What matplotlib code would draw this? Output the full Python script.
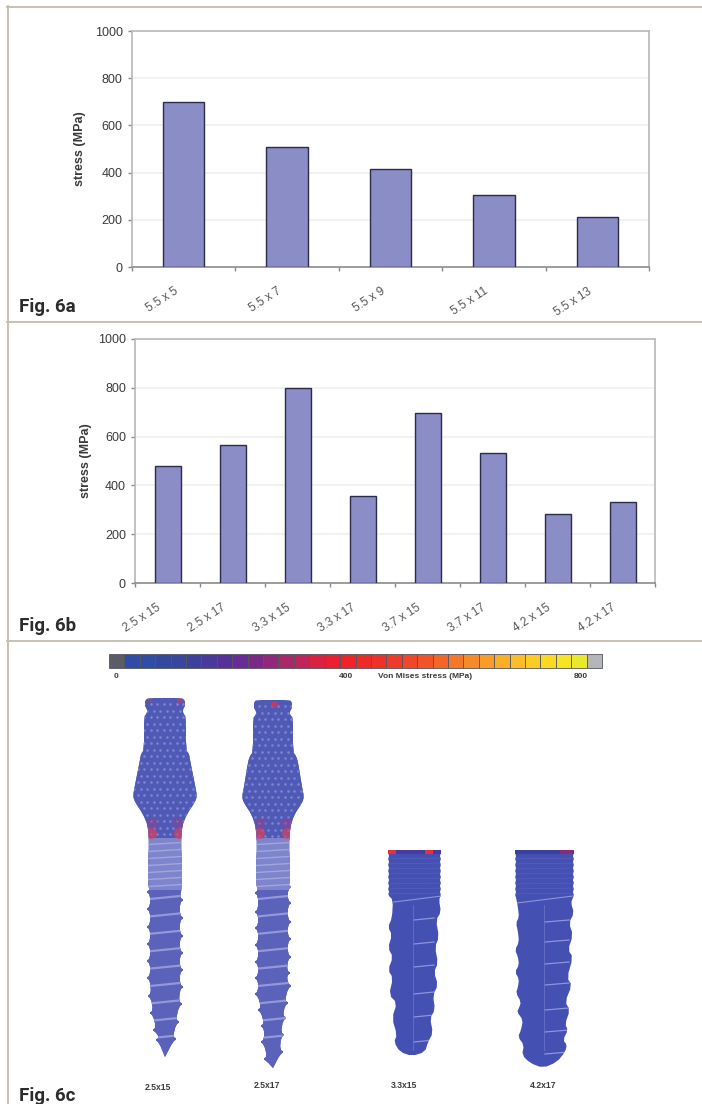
import matplotlib
matplotlib.use('Agg')
import matplotlib.pyplot as plt
from matplotlib.patches import Polygon, Rectangle
from matplotlib.transforms import ScaledTranslation
import numpy as np

W, H = 702, 1104

# chart data
labels_a = ['5.5 x 5', '5.5 x 7', '5.5 x 9', '5.5 x 11', '5.5 x 13']
stress_a = [700, 508, 415, 303, 212]
labels_b = ['2.5 x 15', '2.5 x 17', '3.3 x 15', '3.3 x 17', '3.7 x 15', '3.7 x 17', '4.2 x 15', '4.2 x 17']
stress_b = [480, 567, 800, 358, 697, 533, 282, 333]
y_ticks = [0, 200, 400, 600, 800, 1000]

# colour scale cells
scale_colors = ['#5b5c66', '#2f4da6', '#2f4da6', '#32499f', '#37479f', '#3d409c', '#483a9a', '#57309a',
                '#6a2a98', '#7c2888', '#922878', '#a82868', '#c02458', '#d82240', '#ea2030', '#ee2428',
                '#ee2a28', '#ee3028', '#ef3a2a', '#f0462a', '#f1542a', '#f2662a', '#f4782a', '#f58a2a',
                '#f89c2a', '#fbae28', '#fcbe26', '#fdcc24', '#fcd822', '#f8e422', '#eae82a', '#b4b6bc']

# long implants: head half-outline as (half width, y), then thread teeth y positions
head_15 = [(17, 698), (20, 701), (20, 706), (18, 709), (18, 713), (21, 717), (21, 750), (24, 754), (25, 760),
           (30, 785), (32, 796), (30, 802), (22, 814), (17, 826), (16, 845), (17, 860), (17, 886)]
head_17 = [(17, 700), (19, 703), (19, 708), (17, 711), (17, 715), (20, 718), (20, 752), (23, 756), (25, 762),
           (29, 787), (31, 797), (29, 803), (21, 815), (17, 828), (16, 847), (17, 862), (17, 884)]
teeth_15_left = [892, 909, 927, 944, 961, 978, 996, 1013, 1030, 1040]
reach_15_left = [18, 18, 18, 18, 18, 18, 17, 15, 12, 9]
teeth_15_right = [900, 918, 936, 953, 970, 987, 1004, 1022, 1039]
reach_15_right = [18, 18, 18, 18, 18, 18, 17, 14, 11]
teeth_17_left = [893, 912, 928, 945, 962, 978, 994, 1010, 1026, 1042, 1059]
reach_17_left = [18, 18, 18, 18, 18, 18, 18, 15, 12, 12, 9]
teeth_17_right = [887, 903, 922, 939, 957, 973, 986, 1003, 1018, 1035, 1052]
reach_17_right = [18, 18, 18, 18, 18, 17, 18, 15, 13, 11, 10]

# short implants, (x, y) in image pixels
implant_33 = [(393, 900), (392, 918), (388, 927), (392, 935), (388, 948), (393, 957), (388, 970), (393, 978),
              (389, 995), (397, 1003), (392, 1018), (397, 1035), (394, 1042), (400, 1052), (412, 1056), (425, 1052),
              (428, 1042), (433, 1033), (430, 1018), (435, 1010), (433, 995), (438, 985), (434, 972), (438, 963),
              (435, 947), (439, 937), (436, 920), (441, 912), (439, 900)]
implant_42 = [(518, 908), (519, 917), (516, 923), (518, 932), (519, 942), (515, 950), (518, 957), (519, 965), (515, 972),
              (519, 979), (518, 987), (516, 993), (521, 1002), (519, 1008), (517, 1012), (523, 1020), (521, 1030),
              (518, 1037), (524, 1045), (522, 1055), (530, 1063), (543, 1068), (557, 1062), (565, 1052), (567, 1045),
              (563, 1040), (568, 1030), (565, 1024), (570, 1010), (565, 1002), (572, 985), (567, 978), (573, 957),
              (568, 950), (573, 935), (569, 923), (574, 913), (571, 903)]

c_implant = '#4450b2'
c_line = '#c8c0b4'
c_text = '#3a3a3a'
fam = ['Liberation Sans']


def smooth(points, rounds=1):
    # corner cutting, keeps the outline soft like the scanned picture
    pts = np.array(points, dtype=float)
    for _ in range(rounds):
        nxt = np.roll(pts, -1, axis=0)
        pts = np.column_stack([0.75 * pts + 0.25 * nxt, 0.25 * pts + 0.75 * nxt]).reshape(-1, 2)
    return pts


def long_side(xc, sgn, head, teeth, reach, tip_y):
    side = [(xc + sgn * hw, y) for hw, y in head]
    for y, r in zip(teeth, reach):
        root = max(r - 3, 2)
        side += [(xc + sgn * root, y - 2.5), (xc + sgn * (r + 1), y), (xc + sgn * root, y + 2.5)]
    side.append((xc, tip_y))
    return side


def serrated(x, sgn, y0, y1):
    pts = []
    for i, y in enumerate(np.arange(y0, y1, 3.0)):
        pts.append((x + sgn * (i % 2) * 1.2, y))
    return pts


def bar_panel(box, labels, values, ylab_x, shift):
    x0, x1, y0, y1 = box
    ax = fig.add_axes([x0 / W, 1 - y1 / H, (x1 - x0) / W, (y1 - y0) / H])
    pos = np.arange(len(labels)) + 0.5
    ax.bar(pos, values, 0.4, color='#8a8dc6', edgecolor='#2b2c4c', linewidth=1.0, zorder=3)
    ax.set_xlim(0, len(labels))
    ax.set_ylim(0, 1000)
    ax.set_yticks(y_ticks)
    ax.set_yticklabels([str(v) for v in y_ticks], family=fam, fontsize=9, color=c_text)
    ax.grid(axis='y', color='#f0f0f0', linewidth=1.2, zorder=0)
    ax.set_xticks(np.arange(len(labels) + 1))
    ax.set_xticklabels([])
    ax.set_xticks(pos, minor=True)
    ax.set_xticklabels(labels, minor=True, rotation=33, ha='right', va='top', rotation_mode='anchor',
                       family=fam, fontsize=8.5, color='#555555')
    ax.tick_params(axis='x', which='minor', length=0, pad=11)
    ax.tick_params(axis='both', which='major', length=3, color='#888888', width=1)
    offset = ScaledTranslation(shift[0] / 100, shift[1] / 100, fig.dpi_scale_trans)
    for lab in ax.get_xticklabels(minor=True):
        lab.set_transform(lab.get_transform() + offset)
    for s in ['top', 'right', 'left']:
        ax.spines[s].set_color('#b8b8b8')
        ax.spines[s].set_linewidth(1.2)
    ax.spines['bottom'].set_color('#8c8c8c')
    ax.spines['bottom'].set_linewidth(1.2)
    ax.set_ylabel('stress (MPa)', family=fam, fontsize=9, fontweight='bold', color=c_text)
    ax.yaxis.set_label_coords((ylab_x - x0) / (x1 - x0), 0.5)
    return ax


fig = plt.figure(figsize=(W / 100, H / 100), dpi=100, facecolor='white')

# page layer in image pixels, for rules, captions, scale and implants
page = fig.add_axes([0, 0, 1, 1])
page.set_xlim(0, W)
page.set_ylim(H, 0)
page.axis('off')

for y in [6.5, 321.5, 641]:
    page.plot([7, W], [y, y], color=c_line, lw=1.4)
page.plot([7.5, 7.5], [6, H], color=c_line, lw=1.4)

for y, txt in [(312.5, 'Fig. 6a'), (631, 'Fig. 6b'), (1101, 'Fig. 6c')]:
    page.text(19, y, txt, family=['Roboto', 'Liberation Sans'], fontsize=13.5, fontweight='bold', color='#2c2c2c',
              va='baseline')

bar_panel((131.7, 649, 31, 267), labels_a, stress_a, 86, (-10, -3))
bar_panel((135, 655, 338.7, 583.3), labels_b, stress_b, 92, (-11, -3))

# colour scale
sx0, sx1, sy0, sy1 = 109, 602, 653.5, 668
cell = (sx1 - sx0) / len(scale_colors)
for i, col in enumerate(scale_colors):
    page.add_patch(Rectangle((sx0 + i * cell, sy0), cell, sy1 - sy0, facecolor=col, edgecolor='#55555f', lw=0.6))
for x, txt in [(116, '0'), (346, '400'), (425, 'Von Mises stress (MPa)'), (581, '800')]:
    page.text(x, 677, txt, family=fam, fontsize=6, fontweight='bold', color=c_text, ha='center', va='center')

# implants
out_15 = long_side(165, -1, head_15, teeth_15_left, reach_15_left, 1057) + \
    long_side(165, 1, head_15, teeth_15_right, reach_15_right, 1057)[::-1]
out_17 = long_side(273, -1, head_17, teeth_17_left, reach_17_left, 1068) + \
    long_side(273, 1, head_17, teeth_17_right, reach_17_right, 1068)[::-1]
out_33 = [(388, 850), (441, 850)] + serrated(441, -1, 853, 898) + implant_33[::-1] + serrated(388, 1, 853, 898)[::-1]
out_42 = [(515, 850), (574, 850)] + serrated(574, -1, 853, 900) + implant_42[::-1] + serrated(515, 1, 853, 900)[::-1]

implant_patches = []
for outline in [out_15, out_17, out_33, out_42]:
    p = Polygon(smooth(outline), closed=True, facecolor=c_implant, edgecolor='none', zorder=2)
    page.add_patch(p)
    implant_patches.append(p)


def clipped(artist, k):
    artist.set_clip_path(implant_patches[k])
    return artist


# mesh dots on the heads, threads on the bodies
for k, (xc, top) in enumerate([(165, 698), (273, 700)]):
    clipped(page.add_patch(Rectangle((xc - 33, top), 66, 140, facecolor='#4e5ab6', edgecolor='none', zorder=2.5)), k)
    for row, y in enumerate(np.arange(top + 6, 838, 6.5)):
        xs = np.arange(xc - 34 + (row % 2) * 3.2, xc + 35, 6.5)
        clipped(page.scatter(xs, np.full_like(xs, y), s=3.5, color='#7d85d0', linewidths=0, zorder=3), k)
    clipped(page.add_patch(Rectangle((xc - 25, 838), 50, 52, facecolor='#7f85cc', edgecolor='none', zorder=3)), k)
    clipped(page.add_patch(Rectangle((xc - 25, 890), 50, 180, facecolor='#5a62ba', edgecolor='none', zorder=3)), k)
    for y in np.arange(842, 890, 7.0):
        clipped(page.plot([xc - 25, xc + 25], [y + 3, y], color='#a2a6dc', lw=1.0, zorder=4)[0], k)
    for y in np.arange(895, 1045, 17.4):
        clipped(page.plot([xc - 25, xc + 25], [y + 5, y], color='#9498d8', lw=1.6, zorder=4)[0], k)

# hot spots at the neck and the top of the long implants
for k, xc in enumerate([165, 273]):
    for sgn in (-1, 1):
        clipped(page.scatter([xc + sgn * 14], [833], s=65, color='#da4060', alpha=0.7, linewidths=0, zorder=5), k)
        clipped(page.scatter([xc + sgn * 13], [823], s=70, color='#96408c', alpha=0.5, linewidths=0, zorder=5), k)
clipped(page.scatter([180, 150], [700, 700], s=[22, 8], color='#b8406a', alpha=0.7, linewidths=0, zorder=5), 0)
clipped(page.scatter([274], [704], s=28, color='#c83a60', alpha=0.8, linewidths=0, zorder=5), 1)

# top bands of the two short implants
page.add_patch(Rectangle((388, 850), 53, 4, facecolor='#4a3aa0', edgecolor='none', zorder=4))
page.add_patch(Rectangle((388, 850), 8, 4, facecolor='#e8303a', edgecolor='none', zorder=5))
page.add_patch(Rectangle((425, 850), 8, 4, facecolor='#e8303a', edgecolor='none', zorder=5))
page.add_patch(Rectangle((515, 850), 59, 4, facecolor='#3a3f9e', edgecolor='none', zorder=4))
page.add_patch(Rectangle((560, 850), 14, 4, facecolor='#8a2a7a', edgecolor='none', zorder=5))

# thread marks on the short implants
short_marks = [(2, 414, 20, [918, 942, 965, 992, 1015, 1040]), (3, 545, 24, [920, 940, 962, 983, 1008, 1030, 1052])]
for k, xc, length, ys in short_marks:
    for y in ys:
        clipped(page.plot([xc, xc + length], [y + 2, y], color='#8f95da', lw=0.9, zorder=4)[0], k)
    clipped(page.plot([xc - 1, xc - 1], [905, 1050], color='#6a70c8', lw=0.6, zorder=4)[0], k)
    clipped(page.plot([xc - 28, xc + 28], [903, 896], color='#8f95da', lw=0.8, zorder=4)[0], k)
    for y in np.arange(858, 896, 5.0):
        clipped(page.plot([xc - 30, xc + 30], [y + 1, y], color='#5c64c0', lw=0.4, zorder=4)[0], k)

for x, y, txt in [(158, 1087, '2.5x15'), (267, 1085, '2.5x17'), (404, 1086, '3.3x15'), (543, 1086, '4.2x17')]:
    page.text(x, y, txt, family=fam, fontsize=6.2, fontweight='bold', color=c_text, ha='center', va='center')

fig.savefig('out.png', dpi=100)
